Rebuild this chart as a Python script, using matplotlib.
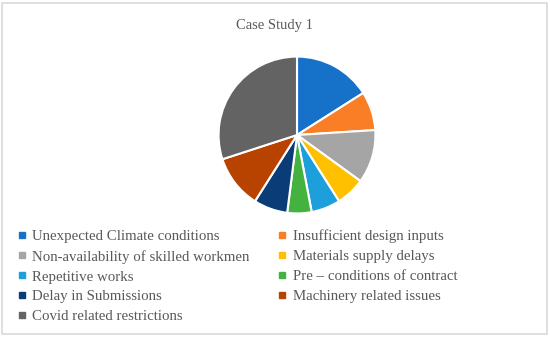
import matplotlib.pyplot as plt
from matplotlib.lines import Line2D
from matplotlib.patches import Rectangle

labels = ["Unexpected Climate conditions", "Insufficient design inputs",
          "Non-availability of skilled workmen", "Materials supply delays",
          "Repetitive works", "Pre \u2013 conditions of contract",
          "Delay in Submissions", "Machinery related issues",
          "Covid related restrictions"]
values = [16, 8, 11, 6, 6, 5, 7, 11, 30]
colors = ["#1572C8", "#F97E26", "#A5A5A5", "#FFC000", "#1C9FDB",
          "#43B23F", "#0A3D78", "#B84300", "#636363"]

W, H = 550, 337
fig = plt.figure(figsize=(W / 100, H / 100), dpi=100)
plt.rcParams['font.family'] = ['Liberation Serif', 'DejaVu Serif']

# chart border
fig.patches.append(Rectangle((2 / W, 3 / H), 545 / W, 331 / H, transform=fig.transFigure,
                             fill=False, edgecolor="#d9d9d9", linewidth=1.2))

cx, cy, r = 297, 135, 80
ax = fig.add_axes([(cx - r) / W, (H - cy - r) / H, 2 * r / W, 2 * r / H])
ax.pie(values, colors=colors, startangle=90, counterclock=False, radius=1,
       wedgeprops=dict(edgecolor="white", linewidth=1.5))
ax.set_xlim(-1.02, 1.02)
ax.set_ylim(-1.02, 1.02)
ax.axis("off")

fig.text(274 / W, 1 - 25 / H, "Case Study 1", ha="center", va="center",
         fontsize=10.5, color="#595959")

handles = [Line2D([], [], marker="s", linestyle="none", markersize=4.5,
                  markerfacecolor=c, markeredgecolor=c) for c in colors]
order = [0, 2, 4, 6, 8, 1, 3, 5, 7]
leg = fig.legend([handles[i] for i in order], [labels[i] for i in order],
                 ncol=2, loc="upper left", bbox_to_anchor=(17.5 / W, 1 - 229.5 / H),
                 frameon=False, fontsize=10.7, labelcolor="#595959",
                 handlelength=0.6, handletextpad=0.4, labelspacing=0.44,
                 columnspacing=1.9, borderpad=0, borderaxespad=0)

fig.savefig("out.png", dpi=100)
